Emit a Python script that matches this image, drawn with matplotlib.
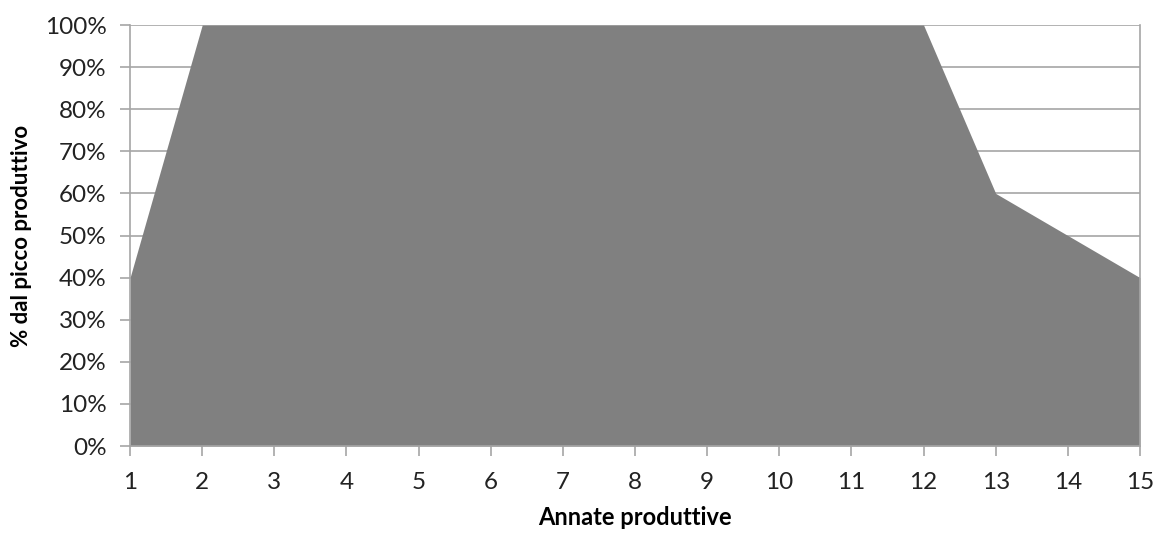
import matplotlib.pyplot as plt
from matplotlib.ticker import PercentFormatter

# production share per productive year (fraction of peak)
years = [1, 2, 3, 4, 5, 6, 7, 8, 9, 10, 11, 12, 13, 14, 15]
share = [40, 100, 100, 100, 100, 100, 100, 100, 100, 100, 100, 100, 60, 50, 40]
y_ticks = [0, 10, 20, 30, 40, 50, 60, 70, 80, 90, 100]

plt.rcParams['font.family'] = ['Lato', 'DejaVu Sans']

fig = plt.figure(figsize=(11.55, 5.33), dpi=100)
ax = fig.add_axes([0.1126, 0.1632, 0.987 - 0.1126, 0.953 - 0.1632])

grid_col = '#a6a6a6'
ax.fill_between(years, 0, share, color='#808080', linewidth=0, zorder=2)

ax.set_xlim(years[0], years[-1])
ax.set_ylim(0, 100)
ax.set_xticks(years)
ax.set_yticks(y_ticks)
ax.yaxis.set_major_formatter(PercentFormatter(decimals=0))
ax.grid(axis='y', color=grid_col, linewidth=1.2, zorder=1)

ax.spines['top'].set_visible(False)
for side in ['left', 'bottom', 'right']:
    ax.spines[side].set_color(grid_col)
    ax.spines[side].set_linewidth(1.2)
    ax.spines[side].set_zorder(3)

ax.tick_params(axis='both', colors=grid_col, length=7, width=1.2,
               labelcolor='#222222', labelsize=17.5)
ax.tick_params(axis='x', pad=12)
ax.tick_params(axis='y', pad=10)

ax.set_xlabel('Annate produttive', fontsize=17, fontweight='bold', labelpad=9)
ax.set_ylabel('% dal picco produttivo', fontsize=16, fontweight='bold', labelpad=9)

fig.savefig('out.png', dpi=100)
